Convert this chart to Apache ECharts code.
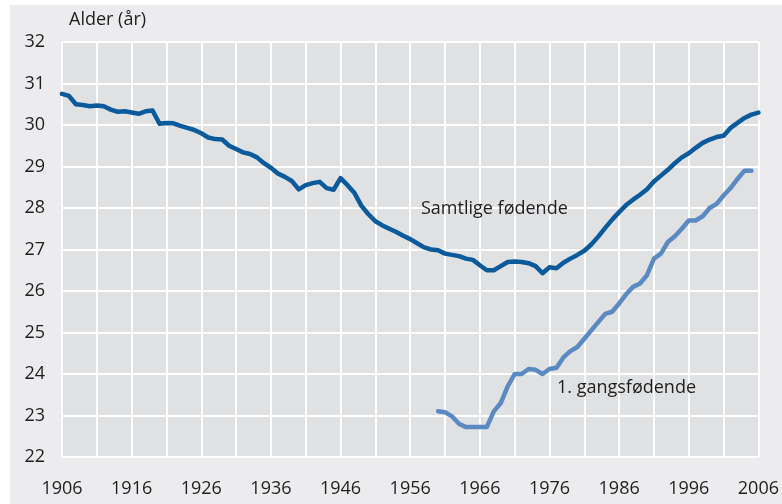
<!DOCTYPE html>
<html>
<head>
<meta charset="utf-8">
<script src="https://cdn.jsdelivr.net/npm/echarts@6/dist/echarts.min.js"></script>
<style>
  html, body { margin: 0; padding: 0; background: #ffffff; }
  #main { width: 782px; height: 504px; }
</style>
</head>
<body>
<div id="main"></div>
<script>
// Gjennomsnittsalder for mødre, 1906-2006
var years = [];
for (var y = 1906; y <= 2006; y++) years.push(y);

// samtlige fødende, 1906..2006
var samtlige = [
  30.75, 30.7, 30.5, 30.48, 30.45, 30.47, 30.45, 30.37, 30.32, 30.33,
  30.3, 30.27, 30.33, 30.35, 30.03, 30.05, 30.04, 29.98, 29.93, 29.88,
  29.8, 29.7, 29.66, 29.65, 29.5, 29.42, 29.34, 29.3, 29.22, 29.08,
  28.97, 28.83, 28.75, 28.65, 28.45, 28.55, 28.6, 28.63, 28.48, 28.44,
  28.72, 28.55, 28.36, 28.05, 27.85, 27.68, 27.58, 27.5, 27.42, 27.33,
  27.25, 27.15, 27.05, 27.0, 26.98, 26.9, 26.87, 26.84, 26.78, 26.75,
  26.62, 26.5, 26.5, 26.6, 26.7, 26.71, 26.7, 26.67, 26.6, 26.43,
  26.57, 26.55, 26.68, 26.78, 26.87, 26.97, 27.12, 27.31, 27.52, 27.72,
  27.9, 28.07, 28.2, 28.32, 28.45, 28.64, 28.78, 28.92, 29.08, 29.22,
  29.32, 29.45, 29.57, 29.65, 29.71, 29.74, 29.93, 30.05, 30.17, 30.25,
  30.3
];

// 1. gangsfødende, 1960..2005
var forstegangYears = [];
for (var f = 1960; f <= 2005; f++) forstegangYears.push(f);
var forstegang = [
  23.1, 23.08, 22.98, 22.8, 22.72, 22.72, 22.72, 22.72, 23.1, 23.3,
  23.7, 24.0, 24.0, 24.12, 24.1, 24.0, 24.12, 24.15, 24.4, 24.55,
  24.65, 24.85, 25.05, 25.25, 25.45, 25.5, 25.7, 25.92, 26.1, 26.18,
  26.38, 26.78, 26.9, 27.18, 27.32, 27.5, 27.7, 27.7, 27.8, 28.0,
  28.1, 28.3, 28.48, 28.7, 28.9, 28.9
];

function pairs(xs, vs) {
  return xs.map(function (x, i) { return [x, vs[i]]; });
}

var font = '"Open Sans", "Noto Sans", sans-serif';
var textColor = '#1e1e1e';

var chart = echarts.init(document.getElementById('main'));
var option = {
  animation: false,
  backgroundColor: '#ffffff',
  graphic: [
    {
      type: 'rect', z: -10, silent: true,
      shape: { x: 10, y: 5, width: 772, height: 499 },
      style: { fill: '#ececee' }
    },
    {
      type: 'text', left: 69, top: 11, z: 100,
      style: { text: 'Alder (år)', fill: textColor, font: '18px ' + font }
    },
    {
      type: 'text', left: 421, top: 200, z: 100,
      style: { text: 'Samtlige fødende', fill: textColor, font: '18px ' + font }
    },
    {
      type: 'text', left: 557, top: 379, z: 100,
      style: { text: '1. gangsfødende', fill: textColor, font: '18px ' + font }
    }
  ],
  grid: {
    left: 62, right: 21, top: 42, bottom: 47,
    show: true, backgroundColor: '#e0e1e3', borderWidth: 0
  },
  xAxis: {
    type: 'value', min: 1906, max: 2006, interval: 5,
    axisLine: { show: false },
    axisTick: { show: false },
    splitLine: { show: true, lineStyle: { color: '#ffffff', width: 2 } },
    axisLabel: {
      margin: 23, color: textColor, fontSize: 18, fontFamily: font,
      formatter: function (v) { return (v - 1906) % 10 === 0 ? String(v) : ''; }
    }
  },
  yAxis: {
    type: 'value', min: 22, max: 32, interval: 1,
    axisLine: { show: false },
    axisTick: { show: false },
    splitLine: { show: true, lineStyle: { color: '#ffffff', width: 2 } },
    axisLabel: { margin: 17, color: textColor, fontSize: 18, fontFamily: font }
  },
  series: [
    {
      name: 'Samtlige fødende', type: 'line', symbol: 'none',
      data: pairs(years, samtlige),
      lineStyle: { color: '#0a5a9c', width: 4.5, cap: 'round', join: 'round' }
    },
    {
      name: '1. gangsfødende', type: 'line', symbol: 'none',
      data: pairs(forstegangYears, forstegang),
      lineStyle: { color: '#5b8ac3', width: 4.5, cap: 'round', join: 'round' }
    }
  ]
};
chart.setOption(option);
</script>
</body>
</html>
